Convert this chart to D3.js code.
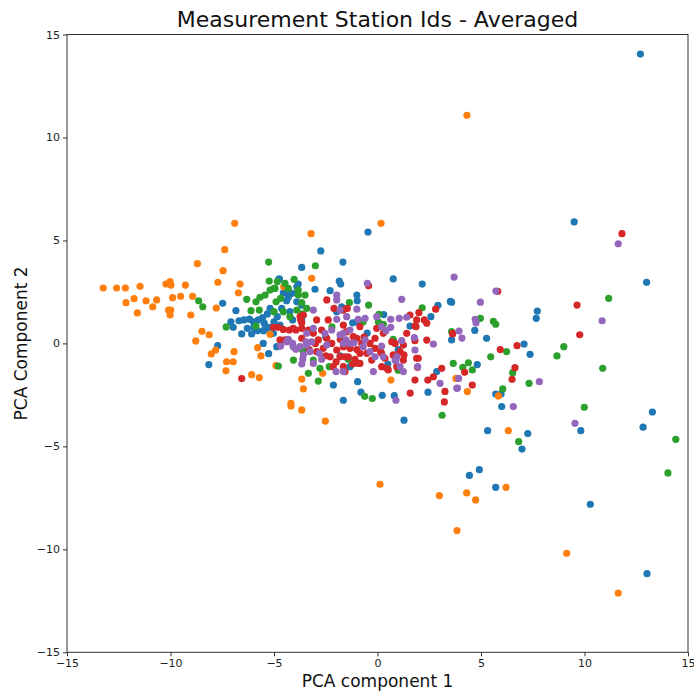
<!DOCTYPE html>
<html>
<head>
<meta charset="utf-8">
<script src="https://cdn.jsdelivr.net/npm/d3@7"></script>
<style>
  html, body { margin: 0; padding: 0; background: #fff; }
  svg { display: block; }
  text { font-family: "DejaVu Sans", sans-serif; }
</style>
</head>
<body>
<div id="chart"></div>
<script>
// ---- Data (PCA component 1, PCA component 2) per station-id group ----
const seriesNames = ["s0", "s1", "s2", "s3", "s4"];
const seriesColors = ["#1f77b4", "#ff7f0e", "#2ca02c", "#d62728", "#9467bd"];
const xTicks = [-15, -10, -5, 0, 5, 10, 15];
const yTicks = [-15, -10, -5, 0, 5, 10, 15];

const blue = [
  [12.7,14.05],[9.5,5.9],[13.0,2.97],[-0.46,5.41],[3.58,2.0],[7.72,1.57],[7.67,1.22],[4.70,0.63],
  [5.27,0.25],[3.58,0.17],[7.08,-0.03],[7.37,-0.53],[4.82,-1.03],[5.71,-2.46],[5.97,-2.46],[6.0,-3.07],
  [13.28,-3.33],[5.32,-4.24],[7.26,-4.38],[6.98,-5.13],[9.82,-4.24],[12.83,-4.07],[4.92,-6.13],[4.44,-6.41],
  [5.71,-6.99],[10.28,-7.81],[13.02,-11.18],
  [-2.13,-2.02],[-0.96,-1.86],[-0.8,-2.37],[-1.65,-2.76],[0.23,-2.52],[0.81,-2.54],[2.44,-2.37],[1.28,-3.73],
  [-2.74,4.49],[-1.67,3.95],[-3.66,3.69],[-1.85,3.03],[-1.78,2.88],[0.76,3.13],[2.16,2.88],[3.52,2.04],
  [-3.02,2.63],[-2.29,2.56],[-0.98,2.07],[2.92,1.85],[1.57,0.84],[2.58,1.3],[2.86,-1.37],[-4.74,3.13],[-3.83,2.88],
  [-7.48,1.95],[-7.72,-0.11],[-8.15,-1.03],[-5.26,-0.5],[-5.52,0],
  [-6.84,1.59],[-7.08,1.05],[-6.97,0.78],[-6.69,1.10],[-6.45,1.14],[-6.19,1.18],[-6.0,1.05],[-5.76,1.14],
  [-5.55,1.25],[-5.32,1.43],[-5.19,1.70],[-5.47,0.98],[-5.97,0.78],[-6.29,0.73],[-6.56,0.46],[-6.08,0.46],
  [-5.81,0.62],[-5.51,0.62],[-5.23,0.78],[-5.0,1.05],[-4.84,1.30],[-4.77,3.11],[-4.55,2.46],[-4.36,2.43],
  [-4.14,2.43],[-3.9,2.75],[-3.9,2.43],[-3.9,2.02],[-3.66,1.86],[-4.23,1.54],[-4.1,1.14],[-3.66,1.14],
  [-4.63,1.70],[-4.39,2.07],[-4.71,0.89],[-5.03,0.49],[-4.31,2.24],[-5.43,0.68],[-4.87,-0.16],
  [-1.33,-1.13],[-1.97,1.54],[-1.2,1.0],[-0.5,0.5],[0.3,1.4],[1.0,-0.3],[-2.5,0.3],[-1.8,-0.6],[0.5,-1.0],[-3.2,0.6],
  [-1.0,2.35],[-1.0,1.05],[-1.73,1.78]
];
const orange = [
  [4.32,11.08],[6.32,-4.24],[6.21,-6.99],[4.31,-7.26],[4.74,-7.6],[2.99,-7.39],[3.84,-9.09],[9.14,-10.19],
  [11.63,-12.12],[0.12,-6.84],[-4.18,-2.91],[-4.18,-3.04],[-3.66,-3.23],[-2.52,-3.77],[-3.58,-2.21],[4.34,-2.34],
  [5.84,-2.55],[3.79,-1.7],
  [-6.9,5.83],[-7.38,4.55],[-8.7,3.87],[-7.46,3.53],[-13.25,2.69],[-12.6,2.69],[-12.18,2.69],[-11.47,2.77],
  [-11.76,2.17],[-12.15,1.98],[-11.18,2.07],[-10.67,2.11],[-10.86,1.78],[-11.6,1.48],[-10.22,2.88],[-10.02,3.0],
  [-9.98,2.83],[-9.9,2.22],[-9.51,2.29],[-9.28,2.83],[-10.09,1.62],[-9.99,1.62],[-10.02,1.38],[-9.02,1.38],
  [-8.93,2.29],[-7.71,2.97],[-6.64,2.88],[-6.72,2.46],[-7.79,1.72],[-8.48,0.59],[-8.13,0.42],[-8.78,0.12],
  [-8.03,-0.51],[-7.82,-0.32],[-7.29,-0.89],[-6.97,-0.89],[-7.32,-1.33],[-6.93,-0.4],[-6.08,-1.52],[-5.71,-1.66],
  [-5.79,-0.21],[-5.63,-0.61],[-4.9,-1.08],[-5.19,0.44],
  [-3.21,5.33],[0.17,5.83],[-3.18,3.16],[-3.66,-1.73],[-2.65,-1.45],[0.65,-1.78],[-4.53,2.75]
];
const green = [
  [11.17,2.19],[4.97,1.22],[5.6,1.07],[5.71,0.93],[6.24,-0.4],[5.47,-0.65],[9.0,-0.16],[8.67,-0.61],
  [10.88,-1.21],[3.66,-0.97],[4.12,-1.16],[4.39,-0.94],[4.58,-1.29],[6.53,-1.42],[7.32,-1.94],[6.05,-2.21],
  [9.99,-3.1],[6.82,-4.77],[14.41,-4.66],[14.03,-6.29],[3.12,-3.49],
  [-2.86,-1.83],[-0.62,-2.57],[-0.25,-2.68],
  [-8.64,2.07],[-8.44,1.78],[-5.26,3.95],[-5.23,3.03],[-6.32,2.14],[-6.11,1.59],[-7.31,0.8],[-5.87,0.84],
  [-4.47,2.92],[-4.03,3.11],[-4.84,3.0],[-5.19,2.59],[-5.43,2.35],[-5.68,2.24],[-5.87,2.02],[-5.71,1.62],
  [-4.9,2.02],[-5.0,1.54],[-4.55,1.54],[-4.23,1.30],[-4.95,2.67],[-3.9,1.62],[-3.66,1.43],[-3.42,1.70],
  [-3.5,2.35],[-3.83,2.59],[-4.31,2.67],[-4.06,-0.81],[-4.79,-1.1],[-3.61,-0.35],
  [-3.0,3.77],[-5.0,2.67],[-1.36,1.98],[-0.43,1.86],[0.07,1.41],[0.28,0.93],[0.76,0.2],[-3.1,-0.81],
  [-3.34,-1.45],[-2.33,-1.13],[2.16,1.73],[3.58,0.57],[-3.82,2.35],[-3.66,1.98],[-4.68,2.19],[-1.41,-0.77],
  [-2.78,-1.21],[-2.2,0.8],[1.0,-1.3],[0.04,1.05],[-0.69,1.05]
];
const red = [
  [11.81,5.33],[5.81,2.53],[9.64,1.86],[9.77,0.42],[3.63,0.46],[5.93,-0.3],[6.74,-0.11],[4.21,-1.4],
  [6.64,-1.18],[6.5,-1.74],[4.58,-2.02],
  [-6.56,-1.71],[1.58,-2.41],[3.26,-2.33],[3.23,-2.84],[1.81,-1.78],[2.43,-1.78],[-5.03,0.78],
  [-4.79,0.78],[-4.55,0.68],[-4.26,0.65],[-3.94,0.65],[-3.66,0.73],[-3.71,1.14],[-3.58,1.38],[-4.71,0.17],
  [-4.47,0.17],[-3.66,0.25],
  [-2.45,2.11],[-0.43,2.8],[2.81,1.66],[1.81,0.84],[2.26,1.14],[3.63,0.49],[0.76,-0.56],[1.28,-0.56],[1.89,-0.72],
  [-4.07,0.73],[-3.74,1.3],[-3.66,1.0],[-3.34,0.65],[-3.1,0.49],[-2.38,1.14],[-2.1,1.7],[-1.65,1.62],[-1.46,1.7],
  [-2.86,0.17],[-2.45,0.25],[-2.21,0.0],[-2.62,-0.24],[-2.94,-0.4],[-1.97,-0.32],[-1.65,-0.16],[-1.33,-0.24],
  [-1.0,0.25],[-0.65,0.3],[-0.36,0.0],[-0.12,-0.24],[0.15,-0.4],[0.36,-0.72],[-0.85,-0.48],[-0.52,-0.48],
  [-1.81,-0.65],[-2.29,-0.65],[-1.41,-0.65],[-1.09,-0.77],[-0.28,-0.81],[-2.14,-1.13],[-1.65,-1.13],[-0.85,-0.97],
  [0.2,-1.13],[0.44,-1.21],[0.93,-1.13],[-2.94,1.14],[-2.7,0.65],[-1.49,0.57],[-0.85,0.81],[-0.04,0.73],
  [-0.12,0.25],[0.69,0.08],[1.25,-0.08],[-1.57,-1.37],[1.89,1.14],[1.41,0.49],[1.81,0.13],[2.38,0.16],
  [3.1,-1.21],[2.7,-1.62],
  [-1.65,0.89],[-1.17,0.33],[-0.76,0.0],[0.28,0.49],[0.2,-0.48],[0.52,-1.29],[0.85,0.0],[1.09,-0.4],
  [1.25,-0.81],[1.57,1.38],[2.0,1.49],[1.86,0.81],[1.97,-0.72],[1.93,-1.16],[2.38,0.98],[-1.57,-0.65],
  [-0.93,-0.97],[-3.0,0.0],[-2.5,-0.6],[-2.0,-0.9],[-1.2,-1.0],[-3.3,-0.3],[-1.8,0.2],[-1.0,-0.3]
];
const purple = [
  [11.63,4.84],[3.7,3.22],[5.72,2.54],[4.97,2.0],[4.72,1.17],[4.76,1.0],[10.85,1.1],[3.94,0.6],
  [4.08,0.26],[3.92,-1.7],[3.86,-2.17],[7.82,-1.86],[6.56,-3.07],[9.54,-3.88],
  [0.89,-2.76],[3.02,-1.94],
  [-0.49,2.92],[1.17,2.14],[-1.97,2.35],[-3.1,1.62],[-0.6,1.22],[0.64,1.17],[1.05,1.22],[1.41,1.27],
  [1.17,0.13],[1.78,0.28],[2.7,-0.03],[1.94,-1.13],[0.89,-0.84],[3.83,-2.18],[-2.0,-1.37],[-3.61,-0.77],[-3.66,-1.0],
  [-4.68,-0.13],[-4.31,0.2],[-4.1,0.0],[-3.94,-0.29],[-3.42,0.49],[-3.45,0.08],[-3.58,-0.56],
  [-1.0,1.66],[-1.97,1.17],[-3.1,0.73],[-2.54,0.49],[-2.21,0.65],[-1.81,0.41],[-1.33,0.65],[-1.52,0.17],
  [-1.65,0.0],[-1.33,0.0],[-2.45,-0.08],[-3.18,0.08],[-3.42,-0.08],[-3.74,-0.16],[-4.07,-0.16],[-4.39,0.08],
  [-3.26,-0.4],[-2.81,-0.48],[-2.7,-0.77],[-3.1,-0.97],[-1.65,-1.37],[-0.69,-0.16],[-0.36,-0.4],[-0.12,-0.65],
  [0.2,-0.13],[0.41,0.62],[0.64,0.78],[-0.93,1.17],[-0.04,1.3],[-1.81,1.62],[-1.97,2.11],[-1.14,0.03],
  [0.2,0.81],[0.93,-0.65],[1.09,-1.13],
  [-1.49,1.3],[-1.65,0.49],[-0.6,0.17],[0.28,-0.65],[0.85,-0.81],[-0.2,-1.37],[1.25,-1.37],[1.81,-0.32]
];
const seriesData = [blue, orange, green, red, purple];

// ---- Layout ----
const W = 694, H = 692;
const margin = { left: 67, right: 6, top: 34.5, bottom: 39.7 };
const pw = W - margin.left - margin.right;
const ph = H - margin.top - margin.bottom;

const svg = d3.select("#chart").append("svg").attr("width", W).attr("height", H);
const g = svg.append("g").attr("transform", `translate(${margin.left},${margin.top})`);

const x = d3.scaleLinear().domain([-15, 15]).range([0, pw]);
const y = d3.scaleLinear().domain([-15, 15]).range([ph, 0]);

// points
seriesData.forEach((pts, i) => {
  g.append("g").attr("class", seriesNames[i]).selectAll("circle").data(pts).join("circle")
    .attr("cx", d => x(d[0])).attr("cy", d => y(d[1]))
    .attr("r", 3.6).attr("fill", seriesColors[i]);
});

// axes
const fmt = d3.format("d");
const xAxis = g.append("g").attr("transform", `translate(0,${ph})`)
  .call(d3.axisBottom(x).tickValues(xTicks).tickFormat(fmt).tickSizeOuter(0).tickSize(4).tickPadding(3));
const yAxis = g.append("g")
  .call(d3.axisLeft(y).tickValues(yTicks).tickFormat(fmt).tickSizeOuter(0).tickSize(4).tickPadding(3));
[xAxis, yAxis].forEach(a => {
  a.select(".domain").remove();
  a.selectAll("line").attr("stroke", "#333").attr("stroke-width", 1);
  a.selectAll("text").attr("font-size", 11).attr("fill", "#222").attr("font-family", "DejaVu Sans");
});

// frame
g.append("rect").attr("x", 0).attr("y", 0).attr("width", pw).attr("height", ph)
  .attr("fill", "none").attr("stroke", "#333").attr("stroke-width", 1);

// title & labels
svg.append("text").attr("x", margin.left + pw / 2).attr("y", 27)
  .attr("text-anchor", "middle").attr("font-size", 22).attr("fill", "#111")
  .text("Measurement Station Ids - Averaged");
svg.append("text").attr("x", margin.left + pw / 2).attr("y", 687)
  .attr("text-anchor", "middle").attr("font-size", 17).attr("fill", "#111")
  .text("PCA component 1");
svg.append("text").attr("transform", `translate(27,${margin.top + ph / 2}) rotate(-90)`)
  .attr("text-anchor", "middle").attr("font-size", 17).attr("fill", "#111")
  .text("PCA Component 2");
</script>
</body>
</html>
